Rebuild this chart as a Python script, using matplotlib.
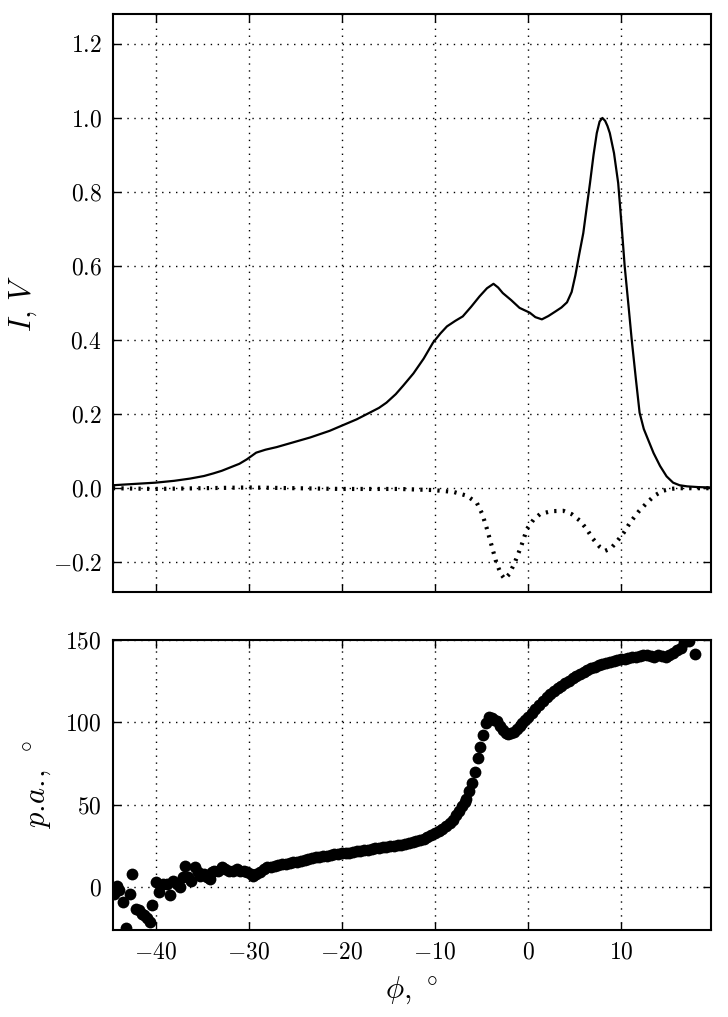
import numpy as np
import matplotlib
matplotlib.use("Agg")
import matplotlib.pyplot as plt

plt.rcParams["mathtext.fontset"] = "cm"
plt.rcParams["font.family"] = "serif"
plt.rcParams["font.serif"] = ["cmr10"]
plt.rcParams["axes.formatter.use_mathtext"] = True
plt.rcParams["axes.unicode_minus"] = True

# intensity I (solid)
phi_I = [-44.6, -42.0, -40.0, -38.0, -36.3, -34.8, -33.8, -32.9, -32.0, -31.0, -30.2,
         -29.2, -28.2, -27.0, -25.2, -23.4, -21.3, -19.9, -18.4, -17.0, -16.0, -15.2,
         -14.2, -13.4, -12.3, -11.2, -10.2, -9.4, -8.7, -7.8, -7.0, -6.1, -5.2, -4.4,
         -3.7, -3.2, -2.7, -1.8, -0.9, 0.2, 0.8, 1.5, 2.2, 3.0, 3.6, 4.2, 4.7, 5.1,
         5.5, 5.95, 6.3, 6.67, 7.05, 7.4, 7.7, 8.0, 8.3, 8.55, 8.8, 9.25, 9.7, 10.05,
         10.4, 10.8, 11.15, 11.6, 12.0, 12.45, 12.9, 13.5, 14.2, 14.9, 15.6, 16.3, 17.1,
         18.3, 19.7]
I_val = [0.008, 0.012, 0.015, 0.020, 0.026, 0.033, 0.040, 0.047, 0.056, 0.066, 0.078,
         0.096, 0.104, 0.111, 0.124, 0.137, 0.155, 0.170, 0.186, 0.204, 0.217, 0.231,
         0.254, 0.277, 0.310, 0.350, 0.393, 0.418, 0.437, 0.452, 0.464, 0.490, 0.518, 0.540,
         0.552, 0.542, 0.527, 0.508, 0.487, 0.474, 0.462, 0.456, 0.465, 0.478, 0.488, 0.502, 0.530, 0.575,
         0.630, 0.689, 0.755, 0.824, 0.900, 0.959, 0.990, 1.000, 0.992, 0.978, 0.959, 0.905, 0.824, 0.715,
         0.599, 0.495, 0.402, 0.295, 0.204, 0.160, 0.132, 0.095, 0.060, 0.032, 0.015, 0.008, 0.005,
         0.003, 0.002]

# V (dotted)
phi_V = [-44.6, -40.0, -35.0, -30.0, -25.0, -20.0, -16.0, -13.8, -10.2, -8.0, -6.6,
         -5.5, -4.9, -4.4, -3.9, -3.4, -2.9, -2.5, -2.0, -1.4, -0.7, -0.1, 0.6, 1.3,
         2.5, 3.8, 4.7, 5.6, 6.3, 7.0, 7.7, 8.3, 8.9, 9.5, 10.3, 11.0, 11.9, 12.8,
         13.6, 14.5, 15.3, 16.2, 18.0, 19.7]
V_val = [0.0, -0.002, 0.0, 0.002, 0.0, -0.002, -0.002, -0.002, -0.005, -0.010, -0.020,
         -0.039, -0.070, -0.110, -0.155, -0.200, -0.232, -0.245, -0.232, -0.200, -0.155, -0.110, -0.085, -0.070,
         -0.062, -0.061, -0.070, -0.088, -0.110, -0.137, -0.158, -0.169, -0.163, -0.146, -0.120, -0.092, -0.063, -0.039,
         -0.020, -0.007, -0.002, 0.0, 0.0, 0.0]

# position angle (dots)
phi_pa = [-44.5, -44.2, -43.9, -43.5, -43.2, -42.8, -42.5, -42.1, -41.8, -41.5, -41.2,
          -40.9, -40.6, -40.4, -40.0, -39.6, -39.2, -38.8, -38.5, -38.1, -37.7, -37.4,
          -37.1, -36.9, -36.5, -36.2, -35.8, -35.5, -35.2, -34.8, -34.5, -34.2, -33.9,
          -33.7, -33.3, -32.9, -32.5, -32.1, -31.7, -31.3, -30.9, -30.5, -30.2, -29.8,
          -29.5, -29.2, -28.8, -28.4,
          -28.0, -27.6, -27.2, -26.8, -26.4, -26.0, -25.6, -25.2, -24.8, -24.4, -24.0,
          -23.6, -23.2, -22.8, -22.4, -22.0, -21.6, -21.2, -20.8, -20.4, -20.0, -19.6,
          -19.2, -18.8, -18.4, -18.0, -17.6, -17.2, -16.8, -16.4, -16.0, -15.6, -15.2,
          -14.8, -14.4, -14.0, -13.6, -13.2, -12.8, -12.4, -12.0, -11.6, -11.2, -10.8,
          -10.4, -10.0, -9.6, -9.2, -8.8, -8.4, -8.0, -7.7, -7.4, -7.1, -6.8, -6.6,
          -6.3, -6.0, -5.7, -5.4, -5.1, -4.8, -4.5, -4.2, -3.9, -3.6, -3.3, -3.0,
          -2.7, -2.4, -2.1, -1.8, -1.5, -1.2, -0.9, -0.6, -0.3, 0.0, 0.4, 0.8,
          1.2, 1.6, 2.0, 2.4, 2.8, 3.2, 3.6, 4.0, 4.4, 4.8, 5.2, 5.6,
          6.0, 6.4, 6.8, 7.2, 7.6, 8.0, 8.4, 8.8, 9.2, 9.6, 10.0, 10.4,
          10.8, 11.2, 11.6, 12.0, 12.4, 12.8, 13.2, 13.6, 14.0, 14.4, 14.8, 15.2,
          15.6, 16.0, 16.4, 16.8, 17.3, 18.0]
pa_val = [-4, 1, -2, -9, -25, -4, 8, -13, -14, -16, -17,
          -19, -21, -11, 3, -3, 2, 2, -5, 4, 2, 0,
          6, 13, 6, 4, 12, 9, 7, 8, 6, 5, 9,
          10, 10, 12, 11, 10, 10, 11, 10, 10, 9, 8,
          7, 8, 9, 11,
          12.0, 12.3, 12.8, 13.3, 13.8, 14.2, 14.6, 15.0, 15.5, 16.0, 16.6,
          17.2, 17.6, 18.0, 18.4, 18.8, 19.1, 19.4, 19.8, 20.1, 20.4, 20.7,
          21.0, 21.3, 21.7, 22.0, 22.4, 22.7, 23.1, 23.5, 23.9, 24.2, 24.5,
          24.8, 25.1, 25.4, 25.8, 26.2, 26.6, 27.1, 27.7, 28.4, 29.2, 30.3,
          31.5, 33.0, 34.2, 35.5, 37.0, 38.8, 41.0, 43.5, 46.0, 49.0, 51.5, 53.5,
          58.0, 63.0, 70.0, 78.0, 85.0, 92.0, 99.5, 103.0, 102.5, 101.5, 100.5, 97.5,
          95.0, 93.5, 92.8, 93.2, 94.3, 95.8, 97.5, 99.3, 101.2, 103.0, 105.6, 108.2,
          110.7, 113.0, 115.0, 116.9, 118.8, 120.5, 122.0, 123.6, 125.2, 126.8, 128.2, 129.4,
          130.6, 131.8, 132.8, 133.7, 134.5, 135.2, 135.9, 136.4, 136.9, 137.5, 138.0, 138.5,
          138.9, 139.3, 139.7, 140.2, 140.8, 140.6, 140.0, 139.5, 140.7, 140.2, 139.4, 141.0,
          142.0, 143.5, 145.0, 148.5, 149.5, 141.5]

fig = plt.figure(figsize=(7.28, 10.17), dpi=100)
ax1 = fig.add_axes([0.155, 0.418, 0.822, 0.568])
ax2 = fig.add_axes([0.155, 0.0855, 0.822, 0.2855])

ax1.plot(phi_I, I_val, color="black", lw=1.6)
ax1.plot(phi_V, V_val, color="black", lw=3.0, linestyle=(0, (0.55, 1.5)))
ax1.set_xlim(-44.6, 19.7)
ax1.set_ylim(-0.28, 1.28)
ax1.set_yticks([-0.2, 0.0, 0.2, 0.4, 0.6, 0.8, 1.0, 1.2])
ax1.set_yticklabels(["$-0.2$", "$0.0$", "$0.2$", "$0.4$", "$0.6$", "$0.8$", "$1.0$", "$1.2$"])
ax1.set_xticks([-40, -30, -20, -10, 0, 10])
ax1.set_xticklabels([])
ax1.set_ylabel(r"$I,\, V$", fontsize=22, labelpad=10)

ax2.plot(phi_pa, pa_val, "o", color="black", markersize=8.5, markeredgewidth=0)
ax2.set_xlim(-44.6, 19.7)
ax2.set_ylim(-26, 150)
ax2.set_yticks([0, 50, 100, 150])
ax2.set_xticks([-40, -30, -20, -10, 0, 10])
ax2.set_xlabel(r"$\phi,\, ^\circ$", fontsize=22, labelpad=8)
ax2.set_ylabel(r"$p.\!a.\!,\; ^\circ$", fontsize=22, labelpad=8)

for ax in (ax1, ax2):
    ax.grid(True, color="black", linestyle=(0, (1, 4)), linewidth=1.0)
    ax.tick_params(direction="in", top=True, right=True, length=6, width=1,
                   labelsize=17, pad=8)
    for s in ax.spines.values():
        s.set_linewidth(1.5)

fig.savefig("out.png", dpi=100)
